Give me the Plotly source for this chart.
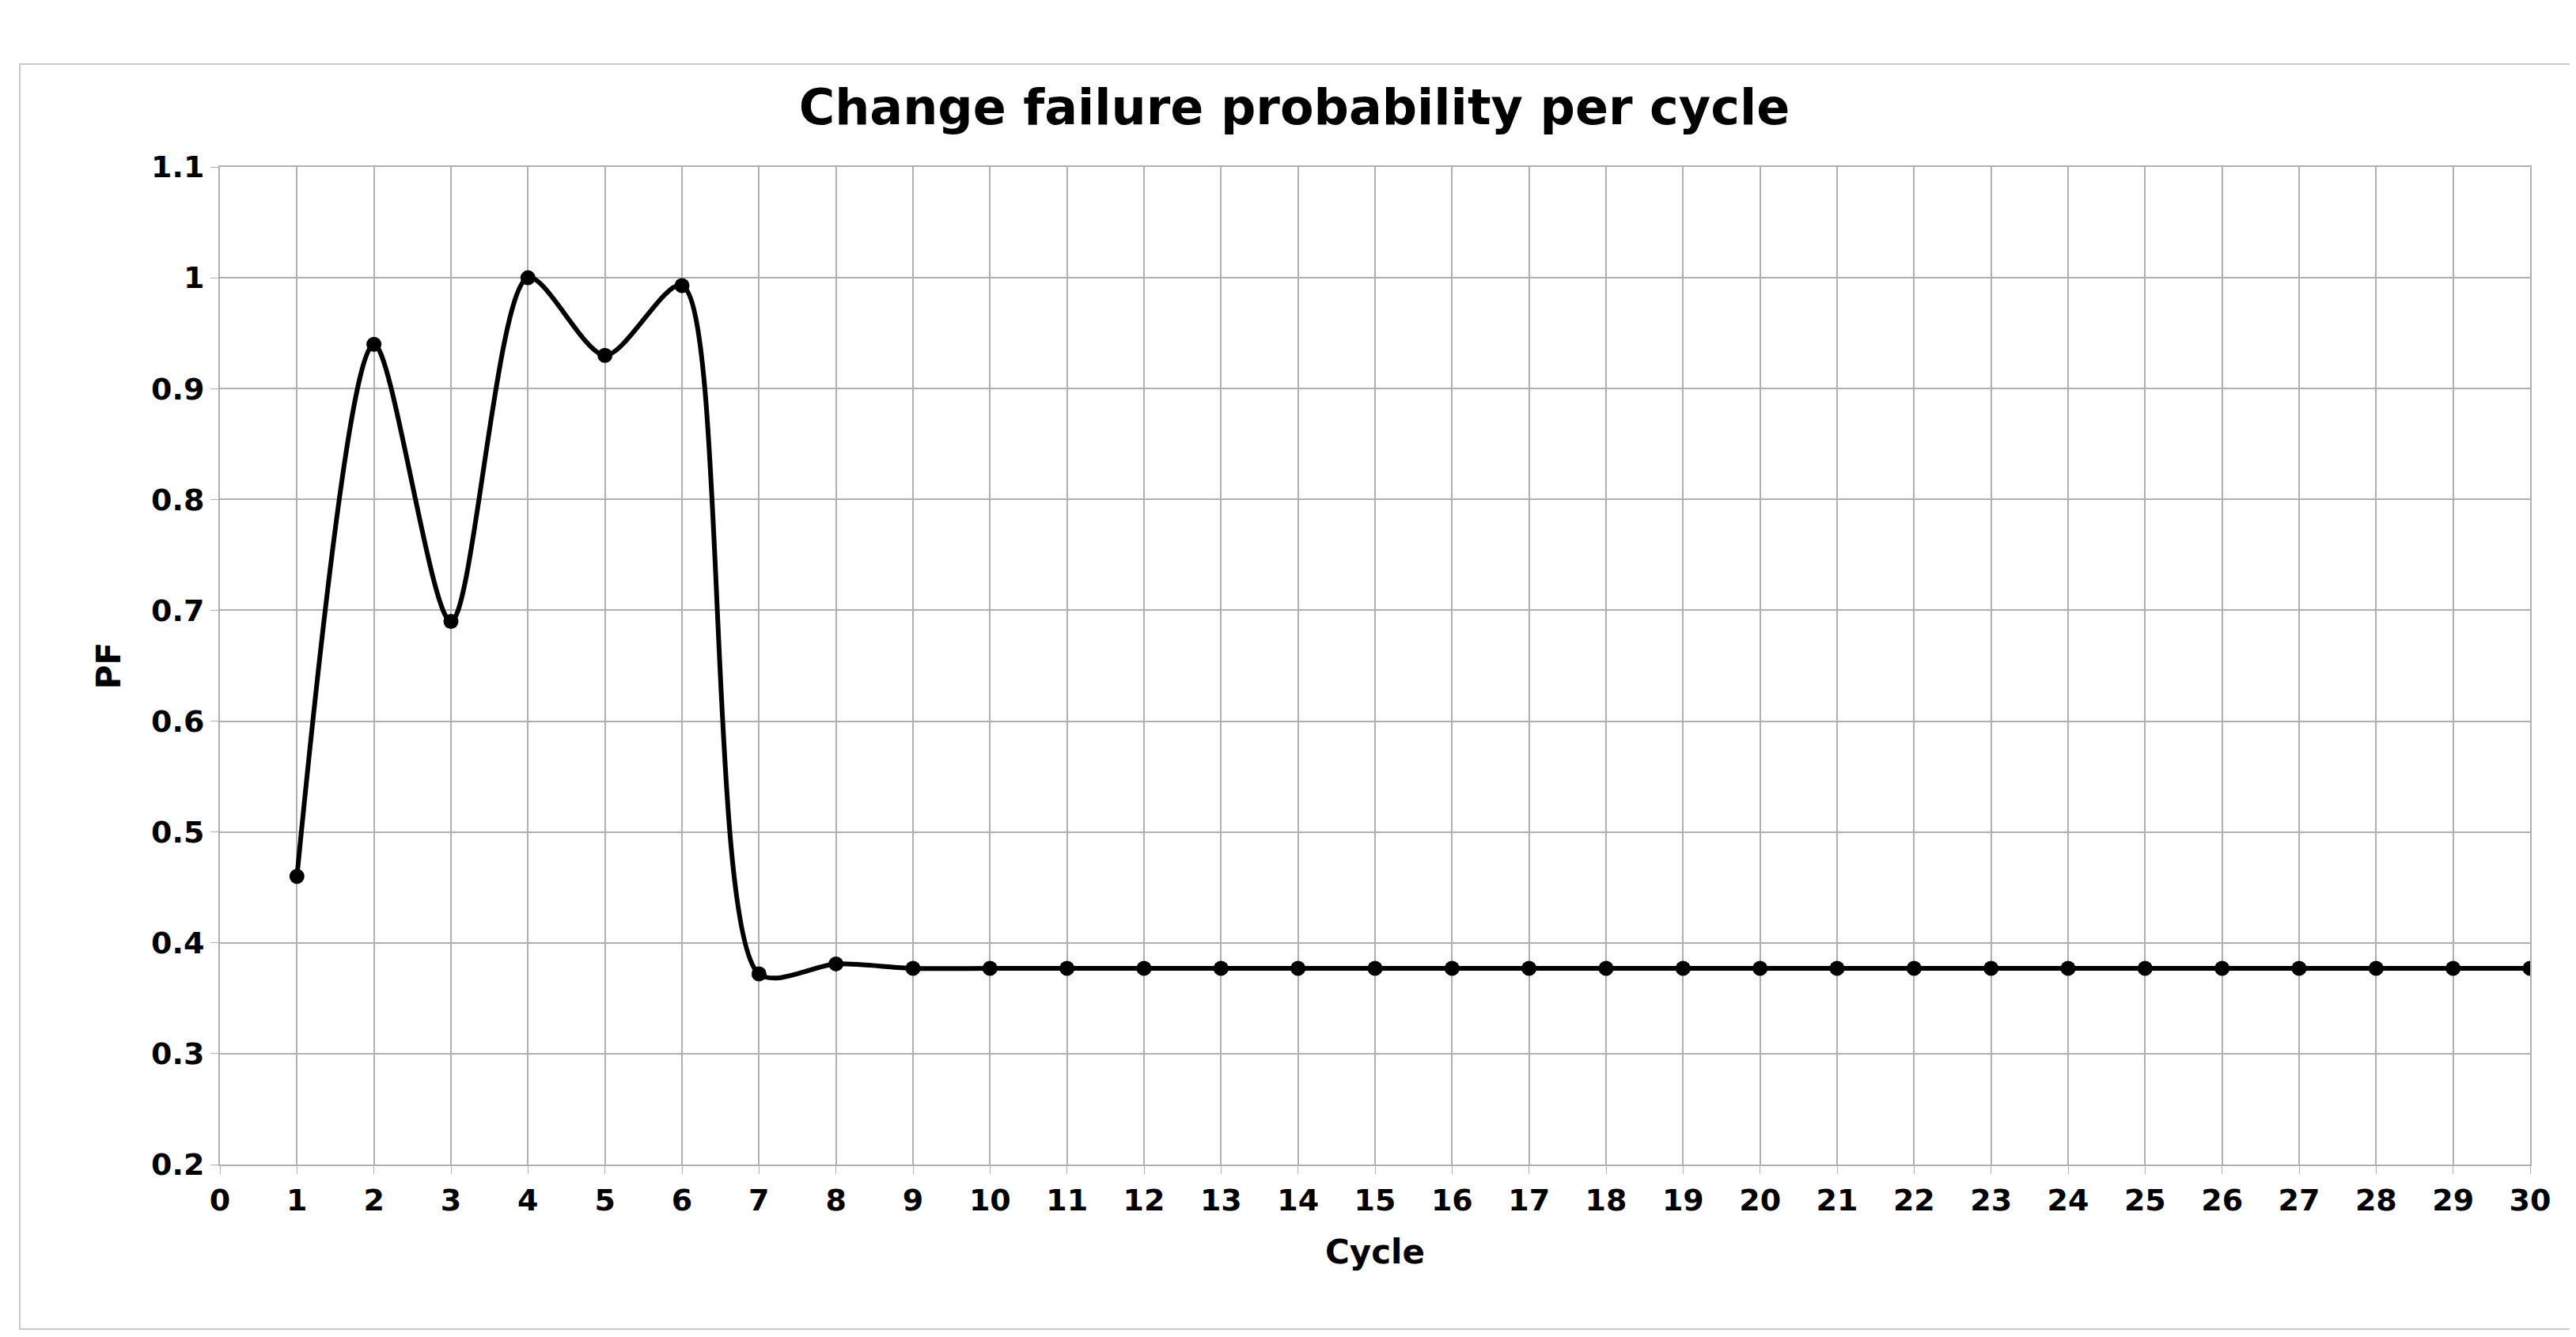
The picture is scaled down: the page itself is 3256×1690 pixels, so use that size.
import plotly.graph_objects as go

cycles = list(range(1, 31))
pf = [0.46, 0.94, 0.69, 1.0, 0.93, 0.993, 0.372, 0.381] + [0.377] * 22
x_ticks = list(range(0, 31))
y_ticks = [0.2, 0.3, 0.4, 0.5, 0.6, 0.7, 0.8, 0.9, 1, 1.1]

W, H = 3256, 1690
L, R, T, B = 270, 66, 203, 226
pw, ph = W - L - R, H - T - B

fig = go.Figure(go.Scatter(
    x=cycles, y=pf, mode="lines+markers",
    line=dict(color="black", width=6, shape="spline", smoothing=0.8),
    marker=dict(color="black", size=19),
))
font = dict(family="DejaVu Sans", color="black")
fig.update_layout(
    width=W, height=H, margin=dict(l=L, r=R, t=T, b=B),
    paper_bgcolor="white", plot_bgcolor="white", showlegend=False,
    title=dict(text="<b>Change failure probability per cycle</b>", x=0.5, xanchor="center",
               y=1 - 127 / H, yanchor="middle", font=dict(size=62, **font)),
    xaxis=dict(range=[0, 30], tickvals=x_ticks, ticktext=[f"<b>{v}</b>" for v in x_ticks],
               showgrid=True, gridcolor="#b0b0b0", gridwidth=2, zeroline=False,
               showline=True, linecolor="#b0b0b0", linewidth=2, mirror=True,
               ticks="outside", ticklen=10, tickcolor="#b0b0b0",
               tickfont=dict(size=38, **font),
               title=dict(text="<b>Cycle</b>", font=dict(size=42, **font), standoff=30)),
    yaxis=dict(range=[0.2, 1.1], tickvals=y_ticks, ticktext=[f"<b>{v:g}</b>" for v in y_ticks],
               showgrid=True, gridcolor="#b0b0b0", gridwidth=2, zeroline=False,
               showline=True, linecolor="#b0b0b0", linewidth=2, mirror=True,
               ticks="outside", ticklen=10, tickcolor="#b0b0b0",
               tickfont=dict(size=38, **font),
               title=dict(text="<b>PF</b>", font=dict(size=42, **font), standoff=25)),
    shapes=[dict(type="rect", xref="paper", yref="paper",
                 x0=(17 - L) / pw, x1=(3244 - L) / pw,
                 y0=(H - B - 1672) / ph, y1=(H - B - 73) / ph,
                 line=dict(color="#c8c8c8", width=2))],
)
fig.write_html("out.html")
